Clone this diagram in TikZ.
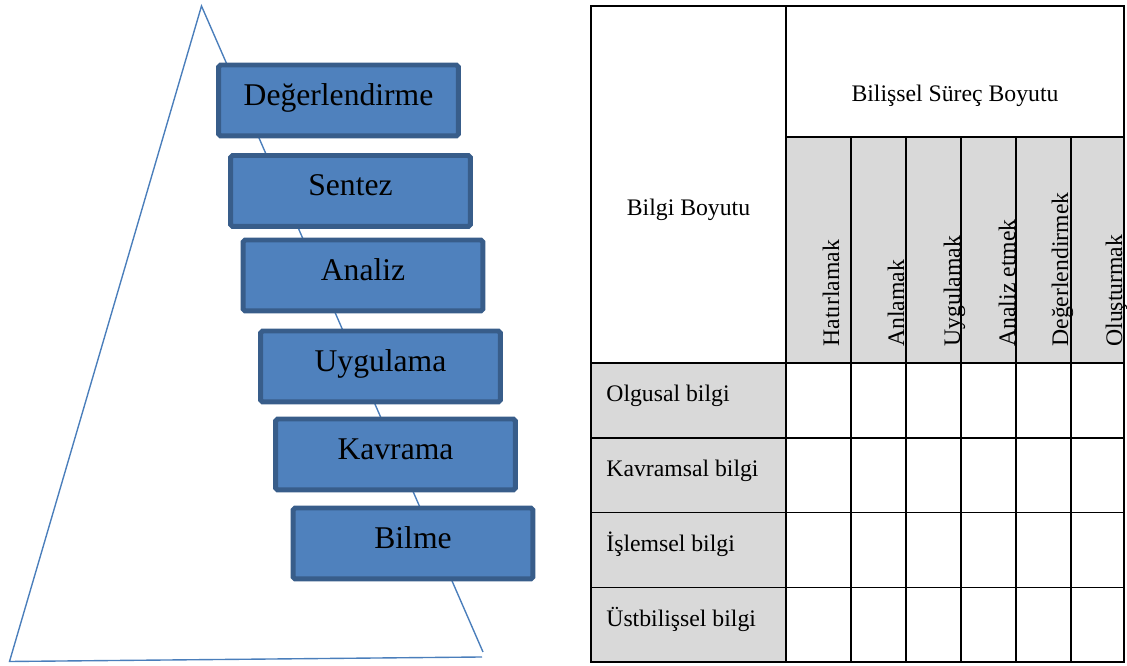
\documentclass[tikz,border=0pt]{standalone}
\usepackage{fontspec}
\setmainfont{Liberation Serif}
\usetikzlibrary{positioning}
\definecolor{boxfill}{HTML}{4F81BD}
\definecolor{boxline}{HTML}{385D8A}
\definecolor{triline}{HTML}{4A7EBB}
\definecolor{cellgray}{HTML}{D9D9D9}
\tikzset{
    bluebox/.style ={
        shape=rectangle,
        rounded corners=1pt,
        draw=boxline,
        fill=boxfill,
        line width=2.5pt,
        minimum width=121.4pt,
        minimum height=35.9pt,
        inner sep=0pt,
        text height=11pt,
        text depth=6pt,
        font=\fontsize{16}{19}\selectfont
    },
    tabtext/.style ={
        inner sep=0pt,
        anchor=base west,
        font=\fontsize{12}{14}\selectfont
    },
    vtext/.style ={
        tabtext,
        rotate=90
    },
    triangle/.style ={
        draw=triline,
        line width=0.7pt
    },
    grid/.style ={
        draw=black,
        line width=1pt
    }
}
\begin{document}
\begin{tikzpicture}[x=0.506pt,y=-0.506pt]
        \useasboundingbox (0,0) rectangle (1127,666);
        % pyramid
        \coordinate (apex) at (201.5,6);
        \coordinate (bl) at (9.5,661.5);
        \coordinate (br) at (483,652);
        \coordinate (brb) at (482,657);
        \draw[triangle] (br) -- (apex) -- (bl) -- (brb);
        \node[bluebox] (deger) at (338.5,100.5) {Değerlendirme};
        \node[bluebox] (sentez) at (350.5,191) {Sentez};
        \node[bluebox] (analiz) at (363,275.5) {Analiz};
        \node[bluebox] (uygula) at (380.5,366.5) {Uygulama};
        \node[bluebox] (kavra) at (395.5,454.5) {Kavrama};
        \node[bluebox] (bilme) at (413,543.5) {Bilme};
        % table
        \fill[cellgray] (786,137) rectangle (1124,363);
        \fill[cellgray] (591,363) rectangle (786,662);
        \draw[grid] (591,6) rectangle (1124,662);
        \draw[grid] (786,6) -- (786,662);
        \draw[grid] (786,137) -- (1124,137);
        \foreach \y in {363,438,512.5,587.5}
            \draw[grid] (591,\y) -- (1124,\y);
        \foreach \x in {851,906,961,1016,1071}
            \draw[grid] (\x,137) -- (\x,662);
        \node[tabtext,anchor=base] (surec) at (955,102) {Bilişsel Süreç Boyutu};
        \node[tabtext,anchor=base] (bilgi) at (688.5,216) {Bilgi Boyutu};
        \node[vtext] (hatirla) at (839,347) {Hatırlamak};
        \node[vtext] (anla) at (904,347) {Anlamak};
        \node[vtext] (uygulamak) at (960,347) {Uygulamak};
        \node[vtext] (analizet) at (1015,347) {Analiz etmek};
        \node[vtext] (degerlen) at (1068,347) {Değerlendirmek};
        \node[vtext] (olustur) at (1122,347) {Oluşturmak};
        \node[tabtext] (olgusal) at (606,402) {Olgusal bilgi};
        \node[tabtext] (kavramsal) at (606,477) {Kavramsal bilgi};
        \node[tabtext] (islemsel) at (606,552) {İşlemsel bilgi};
        \node[tabtext] (ustbil) at (606,627) {Üstbilişsel bilgi};
\end{tikzpicture}
\end{document}
